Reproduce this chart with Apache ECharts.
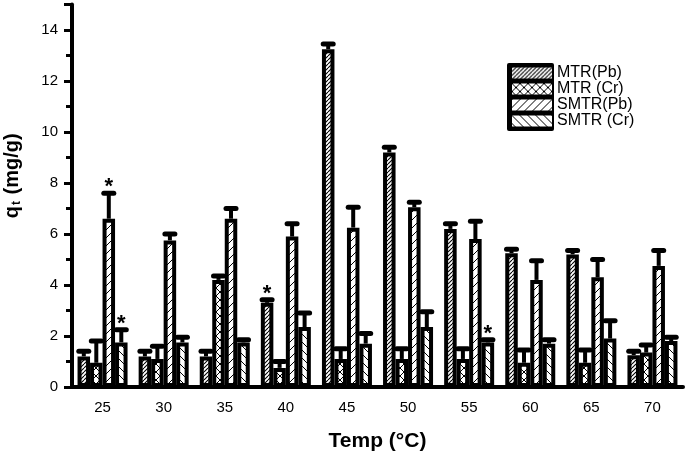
<!DOCTYPE html>
<html>
<head>
<meta charset="utf-8">
<script src="https://cdn.jsdelivr.net/npm/echarts@6/dist/echarts.min.js"></script>
<style>
  html, body { margin: 0; padding: 0; background: #fff; }
  #chart { width: 685px; height: 454px; }
</style>
</head>
<body>
<div id="chart"></div>
<script>
// temperatures (category axis)
const temps = ['25', '30', '35', '40', '45', '50', '55', '60', '65', '70'];

// qt values (mg/g) and error bars
const mtrPb = [1.2, 1.2, 1.2, 3.3, 13.25, 9.2, 6.2, 5.25, 5.2, 1.25];
const mtrPbErr = [0.2, 0.2, 0.2, 0.12, 0.2, 0.2, 0.2, 0.15, 0.15, 0.15];
const mtrCr = [0.95, 1.1, 4.2, 0.75, 1.1, 1.1, 1.1, 0.95, 0.95, 1.35];
const mtrCrErr = [0.85, 0.5, 0.15, 0.25, 0.4, 0.4, 0.4, 0.5, 0.5, 0.3];
const smtrPb = [6.6, 5.75, 6.6, 5.9, 6.25, 7.05, 5.8, 4.2, 4.3, 4.75];
const smtrPbErr = [1.0, 0.25, 0.4, 0.5, 0.8, 0.2, 0.7, 0.75, 0.7, 0.6];
const smtrCr = [1.75, 1.75, 1.75, 2.35, 1.7, 2.35, 1.75, 1.7, 1.9, 1.8];
const smtrCrErr = [0.5, 0.2, 0.1, 0.55, 0.4, 0.6, 0.1, 0.15, 0.7, 0.15];

// significance marks (*)
const mtrPbStar = [0, 0, 0, 1, 0, 0, 0, 0, 0, 0];
const mtrCrStar = [0, 0, 0, 0, 0, 0, 0, 0, 0, 0];
const smtrPbStar = [1, 0, 0, 0, 0, 0, 0, 0, 0, 0];
const smtrCrStar = [1, 0, 0, 0, 0, 0, 1, 0, 0, 0];

// hatch patterns
function makeHatch(size, kinds, lw) {
  const c = document.createElement('canvas');
  c.width = size;
  c.height = size;
  const ctx = c.getContext('2d');
  ctx.fillStyle = '#fff';
  ctx.fillRect(0, 0, size, size);
  ctx.strokeStyle = '#000';
  ctx.lineWidth = lw;
  kinds.forEach(function (k) {
    [-size, 0, size].forEach(function (o) {
      ctx.beginPath();
      if (k === '/') {
        ctx.moveTo(o, size);
        ctx.lineTo(o + size, 0);
      } else {
        ctx.moveTo(o, 0);
        ctx.lineTo(o + size, size);
      }
      ctx.stroke();
    });
  });
  return { image: c, repeat: 'repeat' };
}

const patPbDense = makeHatch(4, ['/'], 1.1);
const patCross = makeHatch(8, ['/', '\\'], 1);
const patPbWide = makeHatch(8, ['/'], 1);
const patBack = makeHatch(8, ['\\'], 1);

const BW = 12.5;
const font = 'Liberation Sans';

function barSeries(name, vals, pat) {
  return {
    name: name,
    type: 'bar',
    data: vals,
    barWidth: BW,
    barGap: '0%',
    itemStyle: { color: pat, borderColor: '#000', borderWidth: 4 },
  };
}

function errSeries(vals, errs, stars, offset) {
  return {
    type: 'custom',
    z: 3,
    data: vals.map(function (v, i) { return [i, v, errs[i], stars[i]]; }),
    renderItem: function (params, api) {
      const i = api.value(0);
      const v = api.value(1);
      const e = api.value(2);
      const p0 = api.coord([i, v]);
      const p1 = api.coord([i, v + e]);
      const x = p0[0] + offset;
      const kids = [
        { type: 'line', shape: { x1: x, y1: p0[1], x2: x, y2: p1[1] }, style: { stroke: '#000', lineWidth: 4 } },
        { type: 'rect', shape: { x: x - 7.5, y: p1[1] - 2.5, width: 15, height: 5, r: 2.5 }, style: { fill: '#000' } },
      ];
      if (api.value(3)) {
        kids.push({
          type: 'text', x: x, y: p1[1] - 6,
          style: { text: '*', fontSize: 22, fontWeight: 'bold', fontFamily: font, fill: '#000', align: 'center', verticalAlign: 'middle' },
        });
      }
      return { type: 'group', children: kids };
    },
  };
}

const chart = echarts.init(document.getElementById('chart'));
chart.setOption({
  animation: false,
  grid: { left: 72, right: 2, top: 4.5, bottom: 67, outerBoundsMode: 'none' },
  legend: {
    orient: 'vertical',
    left: 512,
    top: 65,
    padding: 0,
    itemWidth: 40,
    itemHeight: 11,
    itemGap: 0,
    icon: 'rect',
    itemStyle: { borderWidth: 0 },
    textStyle: { fontSize: 16, color: '#000', fontFamily: font },
    data: ['MTR(Pb)', 'MTR (Cr)', 'SMTR(Pb)', 'SMTR (Cr)'],
  },
  graphic: [
    { type: 'rect', left: 507, top: 63, z: 0, shape: { width: 47, height: 68, r: 2 }, style: { fill: '#000' } },
  ],
  xAxis: {
    type: 'category',
    data: temps,
    boundaryGap: true,
    name: 'Temp (°C)',
    nameLocation: 'middle',
    nameGap: 44,
    nameTextStyle: { fontSize: 21, fontWeight: 'bold', color: '#000', fontFamily: font },
    axisLine: { lineStyle: { color: '#000', width: 4 } },
    axisTick: { alignWithLabel: true, length: 7, lineStyle: { width: 3, color: '#000' } },
    axisLabel: { fontSize: 15, color: '#000', fontFamily: font, margin: 13 },
  },
  yAxis: {
    type: 'value',
    min: 0,
    max: 15,
    interval: 2,
    name: '{q|q}{t|t}{q| (mg/g)}',
    nameLocation: 'middle',
    nameGap: 49,
    nameTextStyle: {
      padding: [0, 0, 0, 40],
      rich: {
        q: { fontSize: 20, fontWeight: 'bold', color: '#000', fontFamily: font },
        t: { fontSize: 12, fontWeight: 'bold', color: '#000', fontFamily: font, padding: [10, 1, 0, 1] },
      },
    },
    splitLine: { show: false },
    axisLine: { show: true, lineStyle: { color: '#000', width: 4 } },
    axisTick: { show: true, length: 8, lineStyle: { width: 3, color: '#000' } },
    minorTick: { show: true, splitNumber: 2, length: 6, lineStyle: { width: 3, color: '#000' } },
    axisLabel: { fontSize: 15, color: '#000', fontFamily: font, margin: 14, showMaxLabel: false },
  },
  series: [
    barSeries('MTR(Pb)', mtrPb, patPbDense),
    barSeries('MTR (Cr)', mtrCr, patCross),
    barSeries('SMTR(Pb)', smtrPb, patPbWide),
    barSeries('SMTR (Cr)', smtrCr, patBack),
    errSeries(mtrPb, mtrPbErr, mtrPbStar, -1.5 * BW),
    errSeries(mtrCr, mtrCrErr, mtrCrStar, -0.5 * BW),
    errSeries(smtrPb, smtrPbErr, smtrPbStar, 0.5 * BW),
    errSeries(smtrCr, smtrCrErr, smtrCrStar, 1.5 * BW),
  ],
});
</script>
</body>
</html>
